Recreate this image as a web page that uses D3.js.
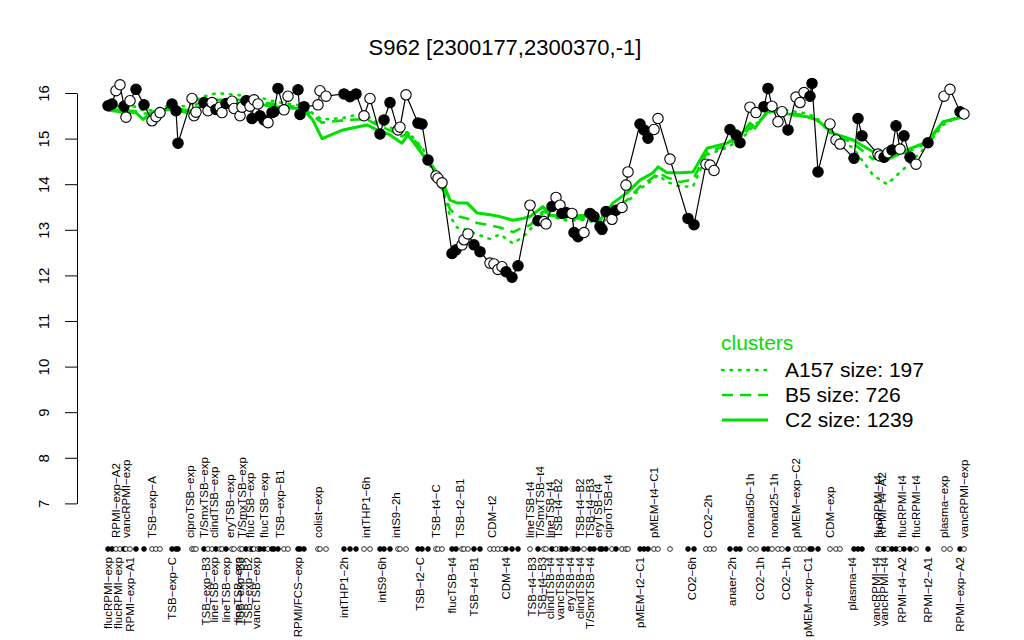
<!DOCTYPE html>
<html>
<head>
<meta charset="utf-8">
<script src="https://cdn.jsdelivr.net/npm/d3@7"></script>
<style>
  html, body { margin: 0; padding: 0; background: #ffffff; }
  svg { display: block; font-family: "Liberation Sans", Arial, Helvetica, sans-serif; }
</style>
</head>
<body>
<svg id="chart" width="1024" height="640"></svg>
<script>
// ---------------- data ----------------
const titleText = "S962 [2300177,2300370,-1]";

// condition positions (ordering index), expression values, filled (1) / open (0)
const pointPos = [0,2,4,6,8,9,11,14,18,22,24,26,32,34,35,42,43,44,48,50,52,54,56,57,59,62,63,66,67,69,71,72,73,75,76,78,80,82,83,85,88,90,95,96,98,105,106,109,118,121,124,128,131,136,138,141,145,146,149,155,157,160,164,165,167,172,174,177,178,180,183,186,191,193,195,197,199,202,205,211,215,218,219,222,224,226,227,229,232,233,235,238,241,243,246,247,249,252,254,257,259,260,266,268,270,273,275,281,290,293,299,301,303,311,314,316,321,324,328,330,332,335,337,340,344,346,348,351,352,355,361,364,366,373,375,377,385,386,388,390,392,394,396,398,401,404,410,418,421,426,428];
const pointVal = [15.72,15.76,16.05,16.18,15.71,15.47,15.83,16.08,15.74,15.39,15.48,15.57,15.76,15.61,14.90,15.88,15.50,15.58,15.79,15.61,15.79,15.64,15.69,15.57,15.77,15.82,15.66,15.50,15.69,15.83,15.71,15.44,15.85,15.76,15.50,15.41,15.35,15.57,15.59,16.10,15.63,15.93,16.07,15.53,15.70,15.74,16.05,15.93,15.98,15.92,15.98,15.50,15.88,15.10,15.41,15.79,15.19,15.25,15.96,15.34,15.32,14.53,14.18,14.13,14.03,12.48,12.56,12.67,12.78,12.91,12.67,12.52,12.27,12.25,12.13,12.19,12.08,11.96,12.21,13.54,13.20,13.18,13.13,13.51,13.71,13.54,13.36,13.38,13.36,12.94,12.85,12.94,13.36,13.29,13.07,13.01,13.40,13.23,13.43,13.49,13.98,14.27,15.32,15.19,15.01,15.20,15.44,14.55,13.25,13.11,14.44,14.42,14.30,15.20,15.08,14.91,15.69,15.57,15.70,16.10,15.71,15.37,15.59,15.19,15.91,15.79,16.01,15.93,16.21,14.27,15.32,14.97,14.88,14.57,15.44,15.06,14.66,14.62,14.59,14.69,14.75,15.28,14.77,15.06,14.59,14.44,14.91,15.93,16.08,15.59,15.54];
const pointFilled = [1,1,0,0,1,0,0,1,1,0,0,0,1,1,1,0,0,0,1,0,0,1,0,0,1,0,0,0,0,1,0,1,0,0,1,1,0,1,1,1,0,0,1,1,1,0,0,0,1,1,1,0,0,1,1,1,0,0,0,1,1,1,0,0,0,1,1,0,0,0,1,1,0,0,0,0,1,1,1,0,1,0,0,1,0,0,1,1,0,1,1,0,1,1,1,1,1,0,1,0,0,0,1,1,1,0,0,0,1,1,0,0,0,1,1,1,0,0,1,1,0,0,0,1,0,0,0,1,1,1,0,0,0,1,1,1,0,0,1,0,1,1,0,1,1,0,1,0,0,1,0];

// cluster profile lines (sampled along the same position axis)
const clusterPos = [0,8.5,14,17.5,22.5,32.5,39.5,46,54.5,66,76,84.5,97.5,102.5,107,117.5,124,129.5,134.5,141,147,150,157.5,162.5,167.5,171,174.5,179.5,184.5,191,196,202.5,207.5,211,217.5,221,229.5,239.5,246,252.5,259.5,266,272.5,275,279.5,286,292.5,299.5,309.5,317,321,323.5,329.5,334.5,342.5,349.5,354.5,362.5,372.5,382.5,389.5,399.5,409.5,417.5,428];
const clusterC2 = [15.62,15.58,15.57,15.42,15.59,15.65,15.57,15.70,15.72,15.78,15.75,15.70,15.65,15.40,15.00,15.19,15.25,15.30,15.19,15.08,14.90,15.08,14.64,14.38,14.03,13.65,13.59,13.59,13.37,13.33,13.29,13.21,13.25,13.29,13.51,13.32,13.29,13.32,13.21,13.59,13.81,14.09,14.25,14.38,14.25,14.25,14.27,14.79,14.90,15.12,15.34,15.23,15.59,15.59,15.52,15.48,15.41,15.12,14.97,14.71,14.53,14.75,14.93,15.37,15.48];
const clusterB5 = [15.65,15.62,15.60,15.55,15.55,15.68,15.62,15.80,15.85,15.85,15.80,15.75,15.68,15.50,15.35,15.40,15.42,15.42,15.30,15.18,15.05,15.12,14.75,14.30,13.90,13.45,13.30,13.25,13.15,13.10,13.05,12.95,13.05,13.10,13.40,13.35,13.25,13.25,13.15,13.45,13.65,13.95,14.15,14.25,14.15,14.05,14.10,14.70,14.85,15.05,15.25,15.30,15.55,15.62,15.55,15.50,15.40,15.10,14.90,14.55,14.60,14.70,14.90,15.35,15.52];
const clusterA157 = [15.70,15.72,15.70,15.62,15.62,15.75,15.70,15.90,16.00,15.95,15.90,15.80,15.72,15.55,15.42,15.45,15.52,15.50,15.35,15.25,15.10,15.15,14.78,14.25,13.85,13.30,13.05,13.00,12.90,12.80,12.90,12.70,12.85,13.00,13.35,13.30,13.20,13.22,13.10,13.40,13.60,13.90,14.10,14.20,14.05,13.95,13.95,14.65,14.80,15.00,15.20,15.30,15.55,15.65,15.60,15.55,15.45,15.05,14.80,14.20,14.00,14.40,14.85,15.30,15.55];

// condition labels: upper row and lower row
const topLabels = ["RPMI\u2212exp\u2212A2","vancRPMI\u2212exp","TSB\u2212exp\u2212A","ciproTSB\u2212exp","T/SmxTSB\u2212exp","clindTSB\u2212exp","eryTSB\u2212exp","T/SmxTSB\u2212exp","flucTSB\u2212exp","flucTSB\u2212exp","TSB\u2212exp\u2212B1","colist\u2212exp","intTHP1\u22126h","intS9\u22122h","TSB\u2212t4\u2212C","TSB\u2212t2\u2212B1","CDM\u2212t2","lineTSB\u2212t4","T/SmxTSB\u2212t4","lineTSB\u2212t4","TSB\u2212t4\u2212B2","TSB\u2212t4\u2212B2","TSB\u2212t4\u2212B3","eryTSB\u2212t4","ciproTSB\u2212t4","pMEM\u2212t4\u2212C1","CO2\u22122h","nonad50\u22121h","nonad25\u22121h","pMEM\u2212exp\u2212C2","CDM\u2212exp","flucRPMI\u2212t4","RPMI\u2212t4\u2212A2","flucRPMI\u2212t4","flucRPMI\u2212t4","plasma\u2212exp","vancRPMI\u2212exp"];
const topLabelPos = [4,9,22,41,48,53,61,67,71,78,86,105,129,144,164,176,192,211,216,221,225,236,241,245,250,273,300,321,333,344,361,385,387,397,404,418,428];
const bottomLabels = ["flucRPMI\u2212exp","flucRPMI\u2212exp","RPMI\u2212exp\u2212A1","TSB\u2212exp\u2212C","TSB\u2212exp\u2212B3","lineTSB\u2212exp","lineTSB\u2212exp","lineTSB\u2212exp","TSB\u2212exp\u2212B3","TSB\u2212exp\u2212B2","vancTSB\u2212exp","RPMI/FCS\u2212exp","intTHP1\u22122h","intS9\u22126h","TSB\u2212t2\u2212C","flucTSB\u2212t4","TSB\u2212t4\u2212B1","CDM\u2212t4","TSB\u2212t4\u2212B3","TSB\u2212t4\u2212B3","clindTSB\u2212t4","vancTSB\u2212t4","eryTSB\u2212t4","clindTSB\u2212t4","T/SmxTSB\u2212t4","pMEM\u2212t2\u2212C1","CO2\u22126h","anaer\u22122h","CO2\u22121h","CO2\u22121h","pMEM\u2212exp\u2212C1","plasma\u2212t4","vancRPMI\u2212t4","vancRPMI\u2212t4","RPMI\u2212t4\u2212A2","RPMI\u2212t2\u2212A1","RPMI\u2212exp\u2212A2"];
const bottomLabelPos = [0,5,11,32,49,53,59,65,66,70,74,95,118,137,156,172,183,199,212,217,221,226,231,236,241,266,292,312,326,339,350,372,384,388,397,410,426];

const yTicks = [7,8,9,10,11,12,13,14,15,16];
const legendTitle = "clusters";
const legendNames = ["A157 size: 197","B5 size: 726","C2 size: 1239"];

// ---------------- drawing ----------------
const green = "#00e000";
const svg = d3.select("#chart");

const x = d3.scaleLinear().domain([0, 428]).range([108, 964]);
const y = d3.scaleLinear().domain([7, 16]).range([503.4, 93]);

// title
svg.append("text")
  .attr("x", 505).attr("y", 55)
  .attr("text-anchor", "middle")
  .style("font-size", "22px")
  .text(titleText);

// y axis
const yAxis = d3.axisLeft(y).tickValues(yTicks).tickSize(12).tickSizeOuter(0).tickFormat(d3.format("d"));
const gy = svg.append("g").attr("transform", "translate(77,0)").call(yAxis);
gy.select(".domain").attr("stroke", "#000").attr("stroke-width", 1);
gy.selectAll(".tick line").attr("stroke", "#000");
gy.selectAll(".tick text")
  .attr("transform", "rotate(-90)")
  .attr("x", 0).attr("y", -28).attr("dy", 0)
  .attr("text-anchor", "middle")
  .style("font-size", "15px")
  .attr("fill", "#000");

// cluster lines
const clusterSeries = [
  {vals: clusterA157, dash: "1.5,7", width: 2.6, cap: "round"},
  {vals: clusterB5, dash: "11,7", width: 2.6, cap: "butt"},
  {vals: clusterC2, dash: null, width: 3, cap: "butt"}
];
const lineGen = d3.line().x(d => x(d[0])).y(d => y(d[1]));
clusterSeries.forEach(s => {
  svg.append("path")
    .datum(clusterPos.map((p, i) => [p, s.vals[i]]))
    .attr("d", lineGen)
    .attr("fill", "none")
    .attr("stroke", green)
    .attr("stroke-width", s.width)
    .attr("stroke-linecap", s.cap)
    .attr("stroke-linejoin", "round")
    .attr("stroke-dasharray", s.dash);
});

// black profile
const pts = pointPos.map((p, i) => ({p: p, v: pointVal[i], f: pointFilled[i]}));
svg.append("path")
  .datum(pts)
  .attr("d", d3.line().x(d => x(d.p)).y(d => y(d.v)))
  .attr("fill", "none")
  .attr("stroke", "#000")
  .attr("stroke-width", 1.2);
svg.append("g").selectAll("circle")
  .data(pts).join("circle")
  .attr("cx", d => x(d.p)).attr("cy", d => y(d.v))
  .attr("r", 5.2)
  .attr("fill", d => d.f ? "#000" : "#fff")
  .attr("stroke", "#000").attr("stroke-width", 1.1);

// condition marker row
svg.append("g").selectAll("circle")
  .data(pts).join("circle")
  .attr("cx", d => x(d.p)).attr("cy", 549)
  .attr("r", 2.4)
  .attr("fill", d => d.f ? "#000" : "#fff")
  .attr("stroke", "#000").attr("stroke-width", 0.8);

// labels
const lab = svg.append("g").style("font-size", "11.5px").attr("fill", "#000");
lab.selectAll("text.top")
  .data(topLabels).join("text").attr("class", "top")
  .attr("transform", (d, i) => `translate(${x(topLabelPos[i]) + 4},538) rotate(-90)`)
  .attr("text-anchor", "start")
  .text(d => d);
lab.selectAll("text.bot")
  .data(bottomLabels).join("text").attr("class", "bot")
  .attr("transform", (d, i) => `translate(${x(bottomLabelPos[i]) + 4},557) rotate(-90)`)
  .attr("text-anchor", "end")
  .text(d => d);

// legend
const leg = svg.append("g");
leg.append("text").attr("x", 721).attr("y", 350)
  .style("font-size", "21px").attr("fill", green).text(legendTitle);
legendNames.forEach((name, i) => {
  const s = clusterSeries[i];
  const ly = 370 + i * 25;
  leg.append("line")
    .attr("x1", 722).attr("x2", 768).attr("y1", ly).attr("y2", ly)
    .attr("stroke", green).attr("stroke-width", s.width)
    .attr("stroke-linecap", s.cap)
    .attr("stroke-dasharray", s.dash);
  leg.append("text").attr("x", 785).attr("y", ly + 7)
    .style("font-size", "21px").attr("fill", "#000").text(name);
});
</script>
</body>
</html>
